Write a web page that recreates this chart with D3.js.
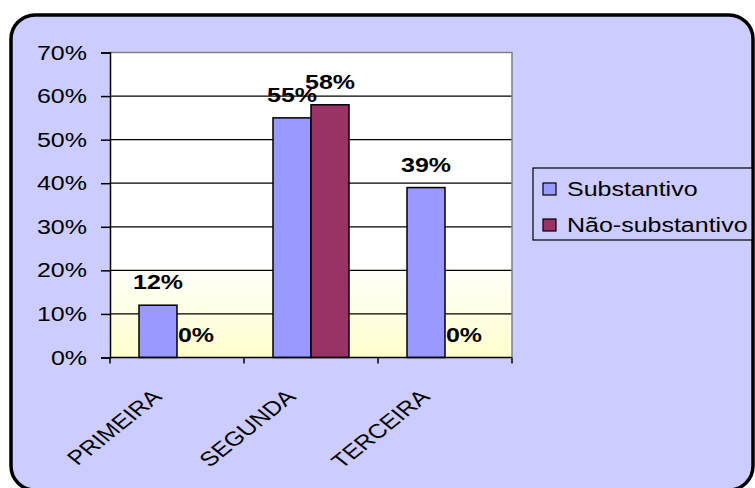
<!DOCTYPE html>
<html>
<head>
<meta charset="utf-8">
<script src="https://cdn.jsdelivr.net/npm/d3@7"></script>
<style>
  html, body { margin: 0; padding: 0; background: #ffffff; }
  svg { display: block; }
  text { font-family: "Liberation Sans", Arial, sans-serif; }
</style>
</head>
<body>
<svg id="chart" width="755" height="488"></svg>
<script>
// Categories, series and axis ticks
const categories = ["PRIMEIRA", "SEGUNDA", "TERCEIRA"];
const seriesNames = ["Substantivo", "Não-substantivo"];
const substantivo = [0.12, 0.55, 0.39];
const naoSubstantivo = [0.00, 0.58, 0.00];
const yTicks = [0, 0.1, 0.2, 0.3, 0.4, 0.5, 0.6, 0.7];

const colors = ["#9999FF", "#993366"];
const seriesValues = [substantivo, naoSubstantivo];

const svg = d3.select("#chart");
const sx = 1.25; // horizontal text stretch
const fontSize = 20;

// Outer frame
svg.append("rect")
  .attr("x", 11).attr("y", 15)
  .attr("width", 742).attr("height", 475)
  .attr("rx", 24).attr("ry", 24)
  .attr("fill", "#CCCCFF")
  .attr("stroke", "#000").attr("stroke-width", 3.5);

const plot = { left: 110, right: 512, top: 52.5, bottom: 357.5 };

const x = d3.scaleBand()
  .domain(categories)
  .range([plot.left, plot.right])
  .paddingInner(0).paddingOuter(0);

const y = d3.scaleLinear()
  .domain([0, 0.7])
  .range([plot.bottom, plot.top]);

// Pair of bars, 76px wide, centred in each category band
const groupWidth = 76;
const inner = d3.scaleBand()
  .domain(seriesNames)
  .range([0, x.bandwidth()])
  .paddingInner(0)
  .paddingOuter((x.bandwidth() - groupWidth) / groupWidth);

// Plot background gradient
const defs = svg.append("defs");
const grad = defs.append("linearGradient")
  .attr("id", "plotBg").attr("x1", 0).attr("y1", 0).attr("x2", 0).attr("y2", 1);
grad.append("stop").attr("offset", "0.68").attr("stop-color", "#FFFFFF");
grad.append("stop").attr("offset", "1").attr("stop-color", "#FFFFCC");

svg.append("rect")
  .attr("x", plot.left).attr("y", plot.top)
  .attr("width", plot.right - plot.left).attr("height", plot.bottom - plot.top)
  .attr("fill", "url(#plotBg)");

// Gridlines
svg.append("g")
  .selectAll("line")
  .data(yTicks.filter(t => t > 0 && t < 0.7))
  .join("line")
  .attr("x1", plot.left).attr("x2", plot.right)
  .attr("y1", d => y(d)).attr("y2", d => y(d))
  .attr("stroke", "#000").attr("stroke-width", 1.2);

// Plot border (top and right)
svg.append("path")
  .attr("d", `M${plot.left},${y(0.7)}H${plot.right}V${plot.bottom}`)
  .attr("fill", "none").attr("stroke", "#808080").attr("stroke-width", 1.5);

// Horizontally stretched text
function label(g, px, py, str, opts = {}) {
  return g.append("text")
    .attr("transform", `translate(${px},${py}) scale(${sx},1)` + (opts.rotate ? ` rotate(${opts.rotate})` : ""))
    .attr("font-size", opts.size || fontSize)
    .attr("font-weight", opts.bold ? "bold" : "normal")
    .attr("text-anchor", opts.anchor || "start")
    .attr("fill", "#000")
    .text(str);
}

// Bars and value labels
const groups = svg.append("g")
  .selectAll("g")
  .data(categories)
  .join("g")
  .attr("transform", d => `translate(${x(d)},0)`);

groups.each(function(cat, ci) {
  const g = d3.select(this);
  seriesNames.forEach((s, si) => {
    const v = seriesValues[si][ci];
    const bx = inner(s);
    if (v > 0) {
      g.append("rect")
        .attr("x", bx).attr("y", y(v))
        .attr("width", inner.bandwidth()).attr("height", y(0) - y(v))
        .attr("fill", colors[si])
        .attr("stroke", "#000").attr("stroke-width", 1.5);
    }
    label(g, bx + inner.bandwidth() / 2, y(v) - 16, Math.round(v * 100) + "%", { bold: true, anchor: "middle" });
  });
});

// Y axis
const yAxis = svg.append("g").attr("transform", `translate(${plot.left},0)`)
  .call(d3.axisLeft(y).tickValues(yTicks).tickSize(9).tickFormat(""));
yAxis.select(".domain").attr("stroke", "#000").attr("stroke-width", 1.5);
yAxis.selectAll(".tick line").attr("stroke", "#000").attr("stroke-width", 1.5);

yTicks.forEach(t => {
  label(svg, 87, y(t) + 7, Math.round(t * 100) + "%", { anchor: "end" });
});

// X axis
const xTickPos = [plot.left].concat(categories.map(c => x(c) + x.bandwidth()));
svg.append("line")
  .attr("x1", plot.left).attr("x2", plot.right)
  .attr("y1", plot.bottom).attr("y2", plot.bottom)
  .attr("stroke", "#000").attr("stroke-width", 1.5);
svg.append("g").selectAll("line")
  .data(xTickPos)
  .join("line")
  .attr("x1", d => d).attr("x2", d => d)
  .attr("y1", plot.bottom).attr("y2", plot.bottom + 6)
  .attr("stroke", "#000").attr("stroke-width", 1.5);

categories.forEach(c => {
  label(svg, x(c) + x.bandwidth() / 2 - 14, 398, c, { anchor: "end", rotate: -45 });
});

// Legend
const legend = svg.append("g");
legend.append("rect")
  .attr("x", 533).attr("y", 168).attr("width", 219).attr("height", 72)
  .attr("fill", "#CCCCFF").attr("stroke", "#000").attr("stroke-width", 1.2);
seriesNames.forEach((s, i) => {
  const ly = 189 + i * 36;
  legend.append("rect")
    .attr("x", 543).attr("y", ly - 6).attr("width", 13).attr("height", 12)
    .attr("fill", colors[i]).attr("stroke", "#000").attr("stroke-width", 1.2);
  label(legend, 567, ly + 7, s);
});
</script>
</body>
</html>
